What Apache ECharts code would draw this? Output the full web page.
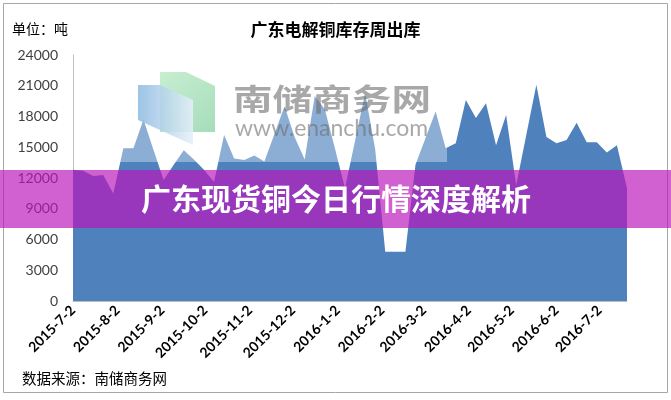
<!DOCTYPE html>
<html>
<head>
<meta charset="utf-8">
<script src="https://cdn.jsdelivr.net/npm/echarts@6/dist/echarts.min.js"></script>
<style>
html,body{margin:0;padding:0;background:#fff;}
#chart{width:671px;height:400px;}
</style>
</head>
<body>
<div id="chart"></div>
<script>
// ---- data ----
const weekDates = [
 '2015-7-2','2015-7-9','2015-7-16','2015-7-23','2015-7-30','2015-8-6','2015-8-13','2015-8-20','2015-8-27',
 '2015-9-3','2015-9-10','2015-9-17','2015-9-24','2015-10-1','2015-10-8','2015-10-15','2015-10-22','2015-10-29',
 '2015-11-5','2015-11-12','2015-11-19','2015-11-26','2015-12-3','2015-12-10','2015-12-17','2015-12-24','2015-12-31',
 '2016-1-7','2016-1-14','2016-1-21','2016-1-28','2016-2-4','2016-2-11','2016-2-18','2016-2-25',
 '2016-3-3','2016-3-10','2016-3-17','2016-3-24','2016-3-31','2016-4-7','2016-4-14','2016-4-21','2016-4-28',
 '2016-5-5','2016-5-12','2016-5-19','2016-5-26','2016-6-2','2016-6-9','2016-6-16','2016-6-23','2016-6-30',
 '2016-7-7','2016-7-14','2016-7-21'
];
const outflow = [
 12800,12700,12200,12300,10500,14900,14900,17700,14700,
 11800,13300,14700,13800,12800,11600,16200,13900,13750,
 14200,13600,16300,19000,16000,13800,20000,18700,14900,
 11000,15600,20300,14800,4800,4800,4800,13300,
 15900,18500,14900,15400,19600,17850,19300,15200,18150,
 11300,16200,21100,16000,15400,15700,17400,15500,15500,
 14500,15200,11000
];
const tickLabels = ['2015-7-2','2015-8-2','2015-9-2','2015-10-2','2015-11-2','2015-12-2',
 '2016-1-2','2016-2-2','2016-3-2','2016-4-2','2016-5-2','2016-6-2','2016-7-2'];
const yTicks = [0,3000,6000,9000,12000,15000,18000,21000,24000];

const titleText = '广东电解铜库存周出库';
const unitText = '单位：吨';
const sourceText = '数据来源：南储商务网';
const bannerText = '广东现货铜今日行情深度解析';
const wmName = '南储商务网';
const wmUrl = 'www.enanchu.com';

// day offsets from the first date (date axis)
function toTs(s){const p=s.split('-').map(Number);return Date.UTC(p[0],p[1]-1,p[2]);}
const t0 = toTs(weekDates[0]);
const dayOf = s => Math.round((toTs(s)-t0)/86400000);
const tickDays = tickLabels.map(dayOf);
const seriesData = weekDates.map((d,i)=>[dayOf(d), outflow[i]]);

const chart = echarts.init(document.getElementById('chart'), null, {renderer:'canvas'});
const cjk = '"Noto Sans CJK SC", sans-serif';
const num = 'Lato, "Liberation Sans", Arial, sans-serif';

chart.setOption({
  animation:false,
  backgroundColor:'#fff',
  title:{
    text:titleText, left:'center', top:16,
    textStyle:{fontFamily:cjk, fontSize:17, fontWeight:'bold', color:'#000'}
  },
  grid:{left:73, right:44, top:55, bottom:99, containLabel:false},
  xAxis:{
    type:'value',
    min:0, max:dayOf(weekDates[weekDates.length-1]),
    axisLine:{show:true, lineStyle:{color:'#BFBFBF', width:1}},
    axisTick:{show:false},
    splitLine:{show:false},
    axisLabel:{
      customValues:tickDays,
      rotate:45, margin:7,
      fontFamily:num, fontSize:14, fontWeight:'bold', color:'#000',
      formatter:function(v){const i=tickDays.indexOf(v);return i>=0?tickLabels[i]:'';}
    }
  },
  yAxis:{
    type:'value', min:yTicks[0], max:yTicks[yTicks.length-1], interval:3000,
    axisLine:{show:true, lineStyle:{color:'#BFBFBF', width:1}},
    axisTick:{show:false},
    splitLine:{show:false},
    axisLabel:{margin:15, fontFamily:num, fontSize:14, color:'#404040',
      formatter:function(v){return String(v);}}
  },
  series:[{
    type:'line', data:seriesData, symbol:'none',
    lineStyle:{width:0, color:'#4F81BD'},
    itemStyle:{color:'#4F81BD'},
    areaStyle:{color:'#4F81BD', opacity:1}
  }],
  graphic:[
    {type:'text', left:12, top:22, z:100,
      style:{text:unitText, font:'14px '+cjk, fill:'#000'}},
    // watermark
    {type:'rect', z:100, shape:{x:118,y:62,width:329,height:100},
      style:{fill:'rgba(255,255,255,0.35)'}},
    {type:'polygon', z:101, shape:{points:[[160,72],[186,72],[215,86],[215,132],[160,132]]},
      style:{fill:{type:'linear',x:0,y:0,x2:1,y2:1,colorStops:[{offset:0,color:'rgba(190,235,200,0.85)'},{offset:1,color:'rgba(150,215,175,0.85)'}]}}},
    {type:'polygon', z:102, shape:{points:[[138,85],[160,85],[193,100],[193,145],[138,120]]},
      style:{fill:{type:'linear',x:0,y:0,x2:1,y2:0,colorStops:[{offset:0,color:'rgba(140,185,225,0.85)'},{offset:1,color:'rgba(230,240,250,0.85)'}]}}},
    {type:'text', z:103, x:233, y:99, scaleX:1.32, originX:0, originY:0,
      style:{text:wmName, font:'bold 30px '+cjk, fill:'rgba(110,110,110,0.6)', verticalAlign:'middle'}},
    {type:'text', z:103, left:235, top:117,
      style:{text:wmUrl, font:'23px '+num, fill:'rgba(110,110,110,0.6)'}},
    // banner
    {type:'rect', z:110, shape:{x:0,y:170,width:671,height:58},
      style:{fill:'rgba(187,20,187,0.68)'}},
    {type:'text', z:111, x:336, y:199,
      style:{text:bannerText, font:'bold 30px '+cjk, fill:'#fff', align:'center', verticalAlign:'middle'}},
    {type:'text', z:100, left:22, top:371,
      style:{text:sourceText, font:'14.5px '+cjk, fill:'#000'}},
    {type:'rect', z:99, shape:{x:3.5,y:3.5,width:664,height:389},
      style:{fill:'none', stroke:'#A6A6A6', lineWidth:1}}
  ]
});
</script>
</body>
</html>
